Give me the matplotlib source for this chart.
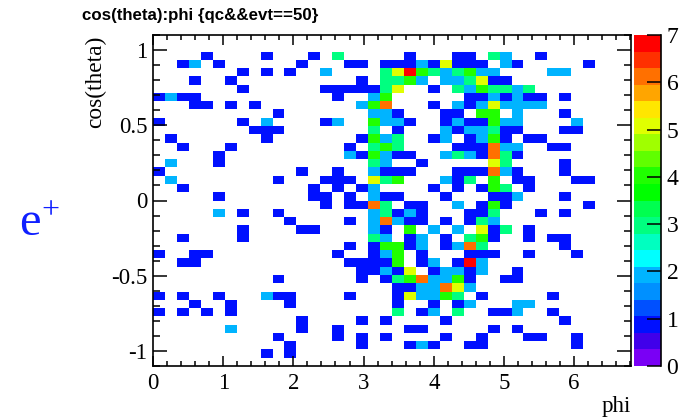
import numpy as np
import matplotlib
matplotlib.use('Agg')
import matplotlib.pyplot as plt
from matplotlib.colors import ListedColormap, BoundaryNorm
from matplotlib.ticker import MultipleLocator

plt.rcParams['font.family'] = ['Liberation Serif', 'DejaVu Serif']

W, H = 687, 417

n_bins = 40
phi_range = [0.0, 6.81]
cos_range = [-1.1, 1.1]

# bin contents, row number counted from the top of the plot -> {phi bin: entries}
hits = {
    2: {4: 1, 9: 1, 13: 1, 15: 3, 21: 1, 25: 1, 26: 1, 28: 3, 29: 2, 32: 1},
    3: {2: 1, 3: 2, 5: 1, 12: 1, 16: 1, 17: 1, 19: 1, 20: 1, 21: 1, 22: 2, 23: 1, 24: 5, 25: 1, 26: 1, 27: 1, 29: 2, 30: 1, 36: 1},
    4: {7: 1, 9: 1, 11: 1, 14: 2, 19: 3, 20: 5, 21: 7, 22: 4, 23: 3, 24: 2, 25: 3, 26: 4, 27: 2, 28: 2, 33: 2, 34: 2},
    5: {3: 1, 6: 1, 17: 1, 19: 3, 20: 3, 21: 4, 22: 2, 24: 2, 25: 2, 26: 3, 27: 5, 28: 1, 29: 1},
    6: {7: 1, 14: 1, 15: 1, 16: 1, 17: 1, 18: 1, 19: 3, 20: 5, 23: 1, 25: 3, 26: 2, 27: 4, 28: 3, 29: 3, 30: 2, 31: 3},
    7: {0: 1, 1: 2, 2: 1, 3: 1, 15: 1, 18: 2, 19: 4, 26: 1, 27: 1, 28: 2, 29: 1, 30: 2, 31: 1, 32: 1, 34: 1},
    8: {3: 1, 4: 1, 6: 1, 8: 1, 17: 2, 18: 4, 19: 6, 23: 1, 25: 2, 26: 1, 27: 2, 28: 5, 29: 2, 30: 2, 31: 2, 32: 2},
    9: {10: 1, 18: 2, 19: 2, 20: 1, 24: 1, 25: 1, 27: 4, 28: 4, 30: 2, 34: 1},
    10: {0: 1, 7: 1, 9: 2, 14: 1, 15: 2, 18: 4, 19: 2, 20: 2, 21: 1, 24: 1, 25: 2, 26: 1, 27: 1, 28: 4, 29: 2, 30: 2, 35: 2},
    11: {8: 1, 9: 1, 10: 1, 18: 3, 20: 1, 24: 2, 25: 1, 26: 2, 27: 2, 28: 3, 29: 1, 30: 1, 34: 1, 35: 1},
    12: {1: 1, 9: 1, 17: 1, 18: 4, 19: 2, 20: 3, 23: 1, 24: 2, 26: 1, 27: 2, 28: 4, 29: 1, 31: 1, 32: 1},
    13: {2: 1, 6: 1, 16: 1, 18: 3, 19: 4, 20: 3, 25: 1, 26: 1, 27: 1, 28: 6, 29: 2, 30: 2, 33: 1, 34: 1},
    14: {5: 1, 16: 2, 17: 1, 18: 4, 19: 2, 20: 1, 21: 1, 24: 2, 25: 3, 26: 2, 27: 1, 28: 6, 29: 3, 30: 1},
    15: {1: 2, 5: 1, 18: 3, 19: 2, 22: 1, 28: 5, 29: 3, 34: 1},
    16: {0: 1, 12: 1, 15: 1, 18: 2, 19: 1, 20: 1, 21: 1, 25: 1, 26: 1, 27: 1, 28: 6, 29: 2, 30: 1, 34: 1},
    17: {1: 2, 10: 1, 14: 1, 15: 1, 16: 1, 18: 5, 19: 3, 20: 4, 24: 2, 25: 1, 26: 3, 28: 4, 30: 1, 31: 1, 35: 1, 36: 1},
    18: {2: 1, 13: 1, 15: 1, 17: 1, 18: 2, 23: 1, 25: 1, 27: 1, 28: 4, 29: 3, 31: 1},
    19: {5: 1, 13: 1, 14: 1, 16: 1, 18: 2, 19: 1, 20: 1, 24: 1, 28: 1, 29: 1, 30: 2, 34: 1},
    20: {14: 1, 16: 1, 17: 1, 18: 6, 19: 3, 21: 1, 22: 1, 25: 2, 27: 1, 28: 4, 29: 1, 36: 1},
    21: {5: 2, 7: 1, 10: 1, 18: 2, 19: 3, 20: 1, 21: 2, 22: 1, 26: 1, 27: 1, 28: 3, 32: 1, 34: 1},
    22: {11: 1, 16: 1, 18: 2, 19: 6, 20: 2, 21: 1, 22: 1, 24: 1, 26: 1, 27: 3, 28: 2},
    23: {7: 1, 12: 1, 13: 1, 18: 2, 19: 1, 21: 4, 23: 2, 25: 2, 27: 5, 28: 1, 29: 3, 31: 1},
    24: {2: 1, 7: 1, 18: 3, 19: 2, 21: 1, 22: 2, 24: 1, 26: 3, 27: 4, 28: 1, 31: 1, 33: 1, 34: 1},
    25: {16: 1, 18: 1, 19: 4, 20: 4, 21: 1, 22: 2, 24: 1, 25: 2, 26: 6, 27: 3, 34: 1},
    26: {0: 1, 3: 1, 4: 1, 15: 1, 18: 1, 19: 2, 20: 4, 22: 1, 26: 1, 27: 1, 28: 1, 31: 1, 35: 1},
    27: {2: 1, 3: 1, 16: 1, 17: 1, 18: 1, 19: 1, 20: 4, 22: 1, 23: 2, 25: 1, 26: 7, 27: 2},
    28: {17: 1, 18: 1, 19: 2, 20: 1, 21: 5, 23: 1, 24: 2, 25: 2, 26: 1, 27: 2, 30: 1},
    29: {10: 1, 17: 1, 19: 1, 20: 3, 21: 4, 22: 6, 23: 2, 24: 2, 25: 4, 26: 1, 29: 1, 30: 1},
    30: {20: 1, 21: 1, 22: 2, 23: 2, 24: 6, 25: 5, 26: 2},
    31: {0: 1, 2: 1, 5: 1, 9: 2, 10: 1, 11: 1, 16: 1, 20: 1, 21: 5, 22: 2, 23: 2, 24: 4, 25: 3, 27: 1, 33: 1},
    32: {3: 1, 6: 1, 11: 1, 20: 1, 23: 1, 25: 1, 26: 2, 30: 2, 31: 2},
    33: {0: 1, 2: 1, 4: 1, 6: 1, 20: 3, 22: 1, 23: 2, 25: 3, 28: 1, 29: 1, 30: 2, 33: 1},
    34: {12: 1, 17: 1, 19: 1, 24: 1, 34: 1},
    35: {6: 2, 12: 1, 15: 1, 21: 1, 22: 1, 28: 1, 30: 1},
    36: {10: 1, 15: 1, 17: 1, 19: 1, 24: 1, 27: 1, 31: 1, 32: 1, 35: 1},
    37: {11: 1, 17: 1, 21: 1, 22: 2, 23: 1, 26: 1, 27: 1, 35: 1},
    38: {9: 1, 11: 1},
}

palette = ['#7a00f5', '#4000ea', '#0010ff', '#0050ff', '#0090ff',
           '#00b4ff', '#00ffff', '#00ffc0', '#00ff80', '#00ff50',
           '#00ff00', '#20ff00', '#60ff00', '#a0ff00', '#e0ff00',
           '#ffe600', '#ffa500', '#ff7000', '#ff3000', '#ff0000']
z_ticks = [0, 1, 2, 3, 4, 5, 6, 7]


def px_box(x0, y0, x1, y1):
    '''Положение осей в пикселях картинки -> доли фигуры'''
    return [x0 / W, 1 - y1 / H, (x1 - x0) / W, (y1 - y0) / H]


counts = np.zeros((n_bins, n_bins))
for row, cells in hits.items():
    for col, value in cells.items():
        counts[n_bins - 1 - row, col] = value
counts = np.ma.masked_equal(counts, 0)

phi_edges = np.linspace(phi_range[0], phi_range[1], n_bins + 1)
cos_edges = np.linspace(cos_range[0], cos_range[1], n_bins + 1)

cmap = ListedColormap(palette)
norm = BoundaryNorm(np.linspace(0, 7, len(palette) + 1), len(palette), clip=True)

fig = plt.figure(figsize=(W / 100, H / 100), dpi=100)
ax = fig.add_axes(px_box(153, 35, 631, 366))
mesh = ax.pcolormesh(phi_edges, cos_edges, counts, cmap=cmap, norm=norm, antialiased=False)

ax.set_xlim(phi_range)
ax.set_ylim(cos_range)
ax.xaxis.set_major_locator(MultipleLocator(1))
ax.xaxis.set_minor_locator(MultipleLocator(0.2))
ax.yaxis.set_major_locator(MultipleLocator(0.5))
ax.yaxis.set_minor_locator(MultipleLocator(0.1))
ax.set_yticks([-1, -0.5, 0, 0.5, 1])
ax.set_yticklabels(['-1', '-0.5', '0', '0.5', '1'])
ax.tick_params(axis='x', which='major', direction='in', length=7.2, width=1.1,
               top=True, labelsize=16.5, pad=5)
ax.tick_params(axis='x', which='minor', direction='in', length=3.6, width=1.1, top=True)
ax.tick_params(axis='y', which='major', direction='in', length=10, width=1.1,
               right=True, labelsize=16.5, pad=4)
ax.tick_params(axis='y', which='minor', direction='in', length=5, width=1.1, right=True)
for spine in ax.spines.values():
    spine.set_linewidth(1.2)

cax = fig.add_axes(px_box(634, 35, 661, 366))
cbar = fig.colorbar(mesh, cax=cax, ticks=z_ticks, spacing='proportional')
cbar.outline.set_visible(False)
cax.spines['right'].set_visible(True)
cax.spines['right'].set_linewidth(1.2)
cax.tick_params(axis='y', which='major', direction='in', length=10, width=1.1,
                right=True, labelsize=17, pad=4)
cax.minorticks_off()

fig.text(82 / W, 1 - 20 / H, 'cos(theta):phi {qc&&evt==50}', fontsize=12.2, fontweight='bold',
         family=['Liberation Sans', 'DejaVu Sans'], ha='left', va='baseline')
fig.text(96 / W, 1 - 128 / H, 'cos(theta)', fontsize=16.8, rotation=90,
         ha='center', va='bottom')
fig.text(631 / W, 1 - 412 / H, 'phi', fontsize=16.5, ha='right', va='baseline')

fig.text(19 / W, 1 - 235 / H, 'e', fontsize=35, color='#0f1fff', ha='left', va='baseline')
fig.text(50 / W, 1 - 211 / H, '+', fontsize=23, color='#0f1fff', ha='center', va='center')

fig.savefig('out.png', dpi=100)
